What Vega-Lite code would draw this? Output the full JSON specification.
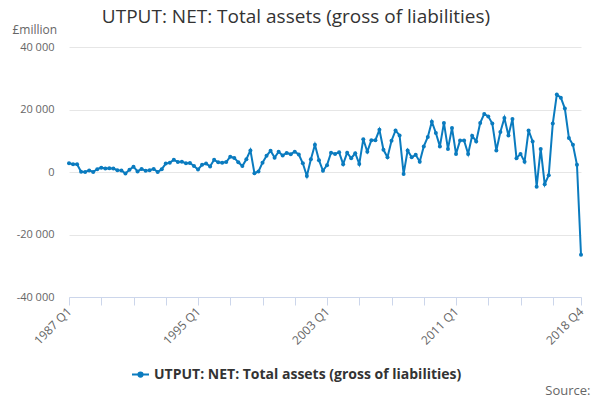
{
  "$schema": "https://vega.github.io/schema/vega-lite/v6.json",
  "width": 512,
  "height": 250,
  "autosize": {"type": "none"},
  "padding": {"left": 69, "top": 47, "right": 19, "bottom": 103},
  "background": "white",
  "config": {
    "font": "Open Sans",
    "view": {"stroke": null}
  },
  "title": {
    "text": "UTPUT: NET: Total assets (gross of liabilities)",
    "anchor": "middle",
    "dx": -29,
    "offset": -19,
    "baseline": "alphabetic",
    "fontSize": 19,
    "fontWeight": "normal",
    "color": "#333333",
    "font": "Open Sans"
  },
  "data": {
    "values": [
      {"q": "1987 Q1", "v": 2800}, {"q": "1987 Q2", "v": 2500}, {"q": "1987 Q3", "v": 2500}, {"q": "1987 Q4", "v": 100},
      {"q": "1988 Q1", "v": 0}, {"q": "1988 Q2", "v": 500}, {"q": "1988 Q3", "v": 0}, {"q": "1988 Q4", "v": 900},
      {"q": "1989 Q1", "v": 1400}, {"q": "1989 Q2", "v": 1100}, {"q": "1989 Q3", "v": 1200}, {"q": "1989 Q4", "v": 1100},
      {"q": "1990 Q1", "v": 600}, {"q": "1990 Q2", "v": 500}, {"q": "1990 Q3", "v": -500}, {"q": "1990 Q4", "v": 700},
      {"q": "1991 Q1", "v": 1700}, {"q": "1991 Q2", "v": 200}, {"q": "1991 Q3", "v": 1000}, {"q": "1991 Q4", "v": 400},
      {"q": "1992 Q1", "v": 600}, {"q": "1992 Q2", "v": 1000}, {"q": "1992 Q3", "v": 0}, {"q": "1992 Q4", "v": 900},
      {"q": "1993 Q1", "v": 2700}, {"q": "1993 Q2", "v": 3000}, {"q": "1993 Q3", "v": 3900}, {"q": "1993 Q4", "v": 3200},
      {"q": "1994 Q1", "v": 3300}, {"q": "1994 Q2", "v": 2800}, {"q": "1994 Q3", "v": 2900}, {"q": "1994 Q4", "v": 1900},
      {"q": "1995 Q1", "v": 800}, {"q": "1995 Q2", "v": 2300}, {"q": "1995 Q3", "v": 2700}, {"q": "1995 Q4", "v": 1800},
      {"q": "1996 Q1", "v": 3900}, {"q": "1996 Q2", "v": 3100}, {"q": "1996 Q3", "v": 3000}, {"q": "1996 Q4", "v": 3200},
      {"q": "1997 Q1", "v": 4900}, {"q": "1997 Q2", "v": 4500}, {"q": "1997 Q3", "v": 3100}, {"q": "1997 Q4", "v": 1900},
      {"q": "1998 Q1", "v": 4100}, {"q": "1998 Q2", "v": 6900}, {"q": "1998 Q3", "v": -400}, {"q": "1998 Q4", "v": 200},
      {"q": "1999 Q1", "v": 3000}, {"q": "1999 Q2", "v": 5200}, {"q": "1999 Q3", "v": 6800}, {"q": "1999 Q4", "v": 4600},
      {"q": "2000 Q1", "v": 6500}, {"q": "2000 Q2", "v": 5300}, {"q": "2000 Q3", "v": 6100}, {"q": "2000 Q4", "v": 5700},
      {"q": "2001 Q1", "v": 6500}, {"q": "2001 Q2", "v": 5600}, {"q": "2001 Q3", "v": 2800}, {"q": "2001 Q4", "v": -1300},
      {"q": "2002 Q1", "v": 4100}, {"q": "2002 Q2", "v": 8700}, {"q": "2002 Q3", "v": 3800}, {"q": "2002 Q4", "v": 400},
      {"q": "2003 Q1", "v": 2200}, {"q": "2003 Q2", "v": 6200}, {"q": "2003 Q3", "v": 5800}, {"q": "2003 Q4", "v": 6300},
      {"q": "2004 Q1", "v": 2500}, {"q": "2004 Q2", "v": 6200}, {"q": "2004 Q3", "v": 4400}, {"q": "2004 Q4", "v": 6000},
      {"q": "2005 Q1", "v": 2600}, {"q": "2005 Q2", "v": 10500}, {"q": "2005 Q3", "v": 6500}, {"q": "2005 Q4", "v": 10200},
      {"q": "2006 Q1", "v": 10200}, {"q": "2006 Q2", "v": 13500}, {"q": "2006 Q3", "v": 7100}, {"q": "2006 Q4", "v": 4700},
      {"q": "2007 Q1", "v": 10000}, {"q": "2007 Q2", "v": 13300}, {"q": "2007 Q3", "v": 11700}, {"q": "2007 Q4", "v": -600},
      {"q": "2008 Q1", "v": 6900}, {"q": "2008 Q2", "v": 4700}, {"q": "2008 Q3", "v": 5500}, {"q": "2008 Q4", "v": 3300},
      {"q": "2009 Q1", "v": 8200}, {"q": "2009 Q2", "v": 11200}, {"q": "2009 Q3", "v": 16100}, {"q": "2009 Q4", "v": 12500},
      {"q": "2010 Q1", "v": 8200}, {"q": "2010 Q2", "v": 15700}, {"q": "2010 Q3", "v": 7400}, {"q": "2010 Q4", "v": 14100},
      {"q": "2011 Q1", "v": 5800}, {"q": "2011 Q2", "v": 10100}, {"q": "2011 Q3", "v": 10100}, {"q": "2011 Q4", "v": 5800},
      {"q": "2012 Q1", "v": 11600}, {"q": "2012 Q2", "v": 9800}, {"q": "2012 Q3", "v": 15700}, {"q": "2012 Q4", "v": 18600},
      {"q": "2013 Q1", "v": 17800}, {"q": "2013 Q2", "v": 15500}, {"q": "2013 Q3", "v": 6900}, {"q": "2013 Q4", "v": 12800},
      {"q": "2014 Q1", "v": 17300}, {"q": "2014 Q2", "v": 11700}, {"q": "2014 Q3", "v": 17000}, {"q": "2014 Q4", "v": 4400},
      {"q": "2015 Q1", "v": 5800}, {"q": "2015 Q2", "v": 3300}, {"q": "2015 Q3", "v": 13300}, {"q": "2015 Q4", "v": 9800},
      {"q": "2016 Q1", "v": -4700}, {"q": "2016 Q2", "v": 7400}, {"q": "2016 Q3", "v": -3900}, {"q": "2016 Q4", "v": -1000},
      {"q": "2017 Q1", "v": 15500}, {"q": "2017 Q2", "v": 24800}, {"q": "2017 Q3", "v": 23800}, {"q": "2017 Q4", "v": 20300},
      {"q": "2018 Q1", "v": 10900}, {"q": "2018 Q2", "v": 8700}, {"q": "2018 Q3", "v": 2300}, {"q": "2018 Q4", "v": -26500}
    ]
  },
  "mark": {
    "type": "line",
    "strokeWidth": 2,
    "point": {"filled": true, "size": 16}
  },
  "encoding": {
    "x": {
      "field": "q",
      "type": "ordinal",
      "sort": null,
      "scale": {"type": "point", "padding": 0},
      "axis": {
        "values": ["1987 Q1", "1989 Q1", "1991 Q1", "1993 Q1", "1995 Q1", "1997 Q1", "1999 Q1", "2001 Q1", "2003 Q1", "2005 Q1", "2007 Q1", "2009 Q1", "2011 Q1", "2013 Q1", "2015 Q1", "2017 Q1", "2018 Q4"],
        "labelExpr": "indexof(['1987 Q1','1995 Q1','2003 Q1','2011 Q1','2018 Q4'], datum.value) >= 0 ? datum.value : ''",
        "labelAngle": -45,
        "labelAlign": "right",
        "labelBaseline": "middle",
        "labelFontSize": 12,
        "labelColor": "#666666",
        "labelPadding": 4,
        "labelOverlap": false,
        "labelBound": false,
        "labelFlush": false,
        "domainColor": "#ccd6eb",
        "tickColor": "#ccd6eb",
        "tickSize": 8,
        "grid": false,
        "title": "Source:",
        "titleX": 521,
        "titleY": 97,
        "titleAlign": "right",
        "titleAnchor": null,
        "titleBaseline": "alphabetic",
        "titleFontSize": 13,
        "titleFontWeight": "normal",
        "titleColor": "#666666"
      }
    },
    "y": {
      "field": "v",
      "type": "quantitative",
      "scale": {"domain": [-40000, 40000], "nice": false},
      "axis": {
        "values": [-40000, -20000, 0, 20000, 40000],
        "labelExpr": "replace(replace(format(datum.value, ','), ',', ' '), '\u2212', '-')",
        "labelFontSize": 11,
        "labelColor": "#666666",
        "labelPadding": 15,
        "ticks": false,
        "domain": false,
        "grid": true,
        "gridColor": "#e6e6e6",
        "title": "£million",
        "titleAngle": 0,
        "titleX": -57,
        "titleY": -14,
        "titleAlign": "left",
        "titleAnchor": null,
        "titleBaseline": "alphabetic",
        "titleFontSize": 12,
        "titleFontWeight": "normal",
        "titleColor": "#666666"
      }
    },
    "color": {
      "datum": "UTPUT: NET: Total assets (gross of liabilities)",
      "type": "nominal",
      "scale": {"range": ["#0a7bbf"]},
      "legend": {
        "orient": "none",
        "legendX": 62,
        "legendY": 318,
        "direction": "horizontal",
        "title": null,
        "symbolType": "M-1,0H1M0.25,0A0.25,0.25,0,1,1,-0.25,0A0.25,0.25,0,1,1,0.25,0",
        "symbolSize": 289,
        "symbolStrokeWidth": 2,
        "symbolFillColor": "#0a7bbf",
        "labelFontSize": 14,
        "labelFontWeight": "bold",
        "labelColor": "#333333",
        "labelOffset": 4,
        "labelLimit": 0
      }
    }
  }
}
